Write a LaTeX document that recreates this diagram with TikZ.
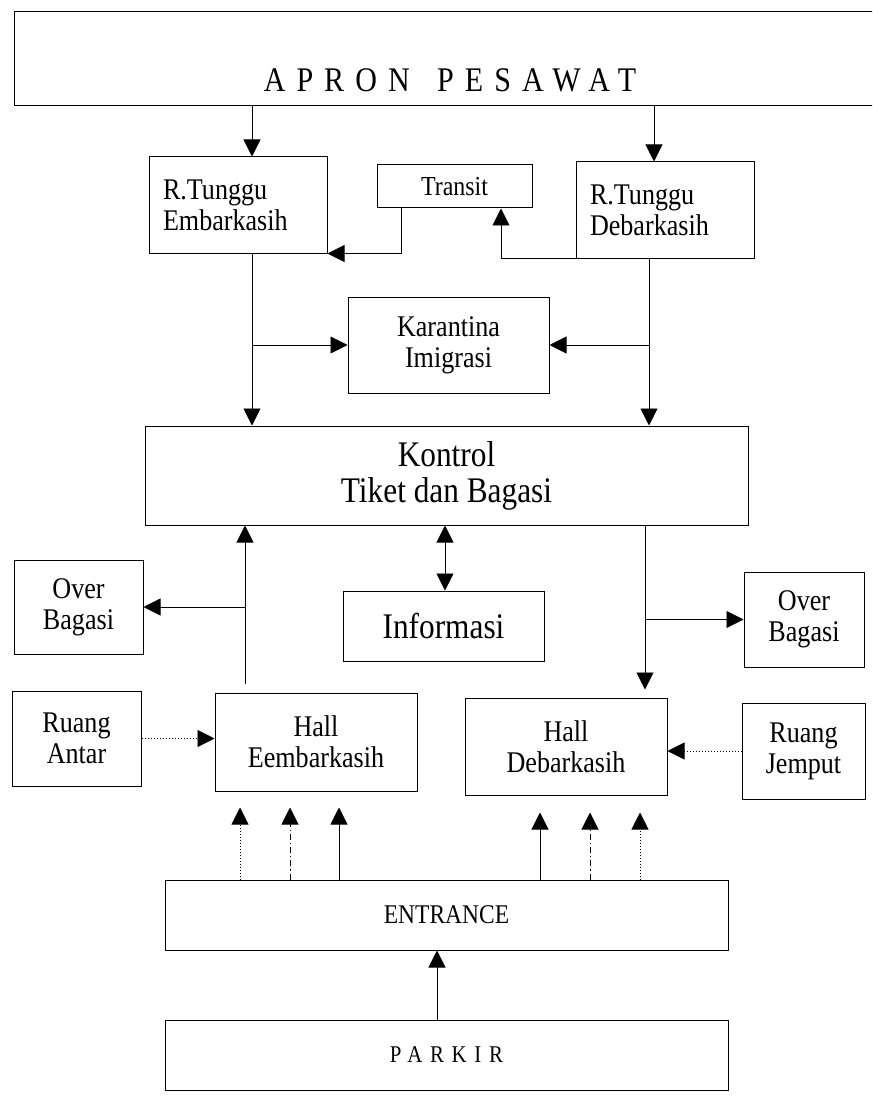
\documentclass[tikz,border=0pt]{standalone}
\usepackage{fontspec}
\setmainfont{Liberation Serif}[FakeStretch=0.87]
\newfontfamily\spacedfont{Liberation Serif}[FakeStretch=0.87, LetterSpace=32]
\usetikzlibrary{arrows.meta}

\tikzset{
  box/.style={draw, line width=1pt, align=center, inner sep=0pt, font=\fontsize{30}{31}\selectfont},
  waitbox/.style={box, align=left, text width=150pt, inner xsep=14pt, minimum height=96pt},
  bigtext/.style={font=\fontsize{36}{36}\selectfont},
  arr/.style={-{Triangle[length=17pt,width=17pt]}, line width=0.9pt},
  darr/.style={{Triangle[length=17pt,width=17pt]}-{Triangle[length=17pt,width=17pt]}, line width=0.9pt},
  dotline/.style={dash pattern=on 1pt off 2pt},
  dashdotline/.style={dash pattern=on 6pt off 3pt on 1.2pt off 3pt},
}

\begin{document}
\begin{tikzpicture}[x=1pt,y=-1pt]
\useasboundingbox (0,0) rectangle (872,1115);
\clip (0,0) rectangle (872,1115);

% boxes
\node[box, minimum width=876pt, minimum height=94pt] (apron) at (452,59) {};
\node[font=\spacedfont\fontsize{34.5}{36}\selectfont, inner sep=0pt] (apronname) at (450,80) {APRON\hspace{9pt} PESAWAT};
\node[waitbox] (rte) at (238,205) {R.Tunggu\\Embarkasih};
\node[box, font=\fontsize{27.5}{30}\selectfont, minimum width=155pt, minimum height=43pt] (transit) at (454.5,186.5) {Transit};
\node[waitbox] (rtd) at (665,210) {R.Tunggu\\Debarkasih};
\node[box, minimum width=201pt, minimum height=96pt] (karantina) at (448.5,345) {Karantina\\Imigrasi};
\node[box, bigtext, minimum width=603pt, minimum height=99pt] (kontrol) at (446.5,475.5) {Kontrol\\Tiket dan Bagasi};
\node[box, minimum width=129pt, minimum height=94pt] (overL) at (78.5,607) {Over\\Bagasi};
\node[box, bigtext, minimum width=201pt, minimum height=70pt] (informasi) at (443.5,626) {Informasi};
\node[box, minimum width=120pt, minimum height=95pt] (overR) at (804,619.5) {Over\\Bagasi};
\node[box, minimum width=129pt, minimum height=95pt] (ruangA) at (76.5,738.5) {Ruang\\Antar};
\node[box, minimum width=202pt, minimum height=98pt] (hallE) at (316,742) {Hall\\Eembarkasih};
\node[box, minimum width=202pt, minimum height=97pt] (hallD) at (566,746.5) {Hall\\Debarkasih};
\node[box, minimum width=123pt, minimum height=96pt] (ruangJ) at (803.5,751) {Ruang\\Jemput};
\node[box, font=\fontsize{27}{30}\selectfont, minimum width=563pt, minimum height=70pt] (entrance) at (446.5,915) {ENTRANCE};
\node[box, font=\spacedfont\fontsize{24}{26}\selectfont, minimum width=563pt, minimum height=70pt] (parkir) at (446.5,1055) {PARKIR};

% columns of the connectors
\coordinate (cA) at (252,0);
\coordinate (cB) at (654,0);
\coordinate (cT) at (401,0);
\coordinate (cU) at (501,0);
\coordinate (cR) at (649,0);
\coordinate (cE) at (245,0);
\coordinate (cI) at (445,0);
\coordinate (cD) at (645,0);
\coordinate (cP) at (437,0);

% upper part
\draw[arr] (apron.south -| cA) -- (rte.north -| cA);
\draw[arr] (apron.south -| cB) -- (rtd.north -| cB);
\draw[arr] (transit.south -| cT) |- (rte.south east);
\draw[arr] (rtd.south west) -| (transit.south -| cU);
\draw[arr] (rte.south -| cA) -- (kontrol.north -| cA);
\draw[arr] (karantina.west -| cA) -- (karantina.west);
\draw[arr] (rtd.south -| cR) -- (kontrol.north -| cR);
\draw[arr] (karantina.east -| cR) -- (karantina.east);

% middle part
\draw[arr, shorten <=9pt] (hallE.north -| cE) -- (kontrol.south -| cE);
\draw[arr] (overL.east -| cE) -- (overL.east);
\draw[darr] (kontrol.south -| cI) -- (informasi.north -| cI);
\draw[arr, shorten >=8pt] (kontrol.south -| cD) -- (hallD.north -| cD);
\draw[arr] (overR.west -| cD) -- (overR.west);
\draw[arr, dotline] (ruangA.east) -- (ruangA.east -| hallE.west);
\draw[arr, dotline] (ruangJ.west) -- (ruangJ.west -| hallD.east);

% lower part
\foreach \x/\sty in {240/dotline, 290/dashdotline, 339/solid}
  \draw[arr, \sty, shorten >=16pt] (\x,0 |- entrance.north) -- (\x,0 |- hallE.south);
\foreach \x/\sty in {540/solid, 590/dashdotline, 640/dotline}
  \draw[arr, \sty, shorten >=17pt] (\x,0 |- entrance.north) -- (\x,0 |- hallD.south);
\draw[arr] (parkir.north -| cP) -- (entrance.south -| cP);
\end{tikzpicture}
\end{document}
